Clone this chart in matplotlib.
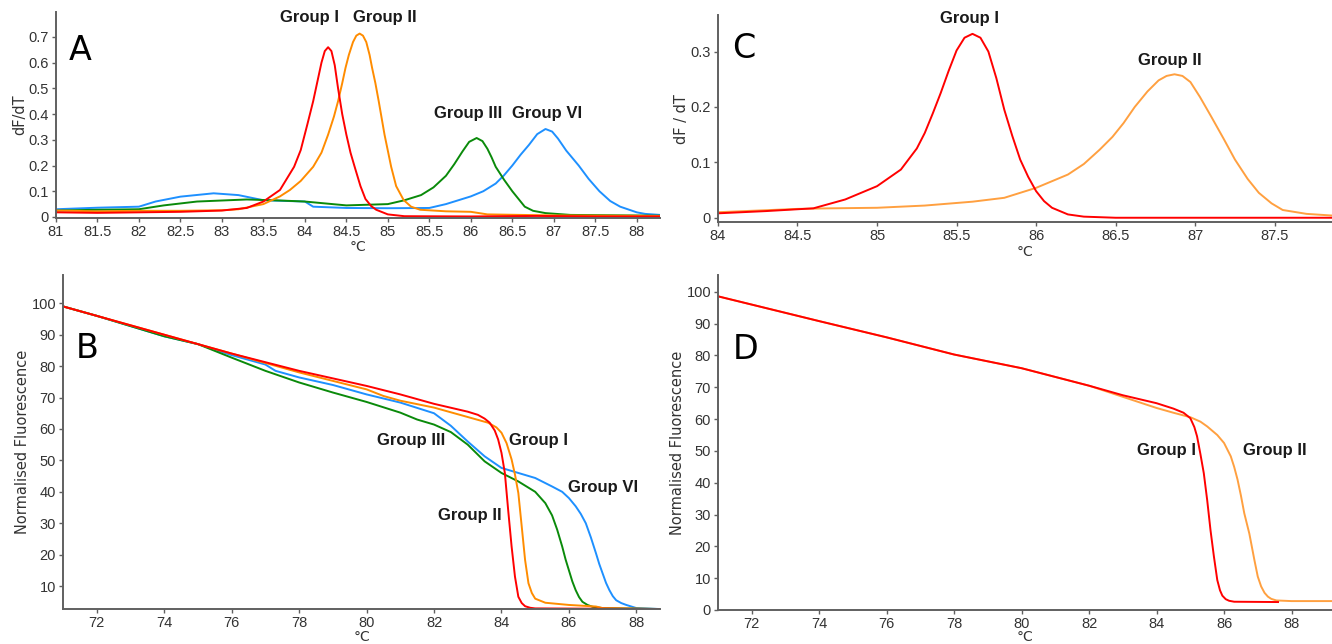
import matplotlib
matplotlib.use("Agg")
import matplotlib.pyplot as plt

# ---- Panel A: derivative melt curves (dF/dT) ----
a_g1_x = [81.0, 81.5, 82.0, 82.5, 83.0, 83.3, 83.5, 83.7, 83.87, 83.95, 84.03, 84.1, 84.16, 84.2, 84.24, 84.28, 84.32, 84.36, 84.4, 84.45, 84.5, 84.55, 84.6, 84.67, 84.73, 84.8, 84.86, 85.0, 85.2, 86.0, 86.8, 87.5, 88.28]
a_g1_y = [0.018, 0.016, 0.018, 0.020, 0.025, 0.035, 0.060, 0.105, 0.195, 0.260, 0.360, 0.450, 0.540, 0.600, 0.645, 0.660, 0.645, 0.590, 0.500, 0.400, 0.320, 0.250, 0.195, 0.120, 0.070, 0.042, 0.028, 0.010, 0.003, 0.002, 0.004, 0.002, 0.002]

a_g2_x = [81.0, 81.5, 82.0, 82.5, 83.0, 83.2, 83.5, 83.7, 83.82, 83.95, 84.1, 84.2, 84.28, 84.35, 84.4, 84.45, 84.49, 84.53, 84.58, 84.62, 84.66, 84.7, 84.74, 84.78, 84.81, 84.85, 84.89, 84.96, 85.04, 85.1, 85.19, 85.28, 85.39, 85.7, 86.0, 86.2, 87.0, 88.28]
a_g2_y = [0.025, 0.022, 0.024, 0.024, 0.026, 0.030, 0.050, 0.080, 0.105, 0.140, 0.195, 0.250, 0.320, 0.390, 0.450, 0.520, 0.580, 0.630, 0.680, 0.705, 0.713, 0.705, 0.680, 0.630, 0.580, 0.520, 0.450, 0.320, 0.195, 0.120, 0.066, 0.040, 0.028, 0.022, 0.020, 0.010, 0.006, 0.004]

a_g3_x = [81.0, 81.5, 82.0, 82.3, 82.7, 83.3, 83.7, 84.0, 84.5, 85.0, 85.2, 85.4, 85.55, 85.7, 85.8, 85.9, 85.98, 86.07, 86.14, 86.2, 86.25, 86.3, 86.4, 86.5, 86.58, 86.65, 86.75, 86.9, 87.2, 88.28]
a_g3_y = [0.025, 0.028, 0.030, 0.045, 0.060, 0.068, 0.064, 0.060, 0.045, 0.050, 0.065, 0.085, 0.115, 0.160, 0.205, 0.255, 0.292, 0.307, 0.295, 0.265, 0.232, 0.195, 0.145, 0.100, 0.068, 0.040, 0.024, 0.015, 0.008, 0.005]

a_g6_x = [81.0, 81.5, 82.0, 82.2, 82.5, 82.9, 83.2, 83.5, 84.0, 84.1, 84.5, 85.0, 85.5, 85.7, 86.0, 86.15, 86.3, 86.4, 86.5, 86.6, 86.7, 86.8, 86.9, 86.98, 87.05, 87.15, 87.3, 87.42, 87.55, 87.68, 87.8, 88.0, 88.1, 88.28]
a_g6_y = [0.030, 0.036, 0.040, 0.060, 0.079, 0.092, 0.085, 0.065, 0.060, 0.040, 0.035, 0.034, 0.035, 0.050, 0.080, 0.100, 0.130, 0.162, 0.200, 0.242, 0.280, 0.322, 0.342, 0.332, 0.305, 0.258, 0.200, 0.148, 0.100, 0.062, 0.040, 0.018, 0.012, 0.008]

# ---- Panel C: derivative melt curves ----
c_g1_x = [84.0, 84.3, 84.6, 84.8, 85.0, 85.15, 85.25, 85.3, 85.35, 85.4, 85.45, 85.5, 85.55, 85.6, 85.65, 85.7, 85.75, 85.8, 85.85, 85.9, 85.95, 86.0, 86.05, 86.1, 86.2, 86.3, 86.5, 87.86]
c_g1_y = [0.008, 0.012, 0.017, 0.033, 0.057, 0.087, 0.125, 0.153, 0.188, 0.225, 0.265, 0.302, 0.325, 0.332, 0.325, 0.300, 0.252, 0.195, 0.148, 0.105, 0.074, 0.048, 0.030, 0.018, 0.006, 0.002, 0.0, 0.0]

c_g2_x = [84.0, 84.5, 84.7, 85.0, 85.3, 85.6, 85.8, 86.0, 86.2, 86.3, 86.4, 86.48, 86.55, 86.62, 86.7, 86.77, 86.82, 86.87, 86.92, 86.97, 87.03, 87.1, 87.18, 87.25, 87.33, 87.4, 87.48, 87.55, 87.7, 87.86]
c_g2_y = [0.010, 0.016, 0.017, 0.018, 0.022, 0.029, 0.036, 0.054, 0.078, 0.097, 0.123, 0.146, 0.171, 0.200, 0.228, 0.248, 0.256, 0.259, 0.256, 0.245, 0.218, 0.183, 0.142, 0.105, 0.070, 0.045, 0.026, 0.014, 0.007, 0.004]

# ---- Panel B: normalised melt curves ----
b_g1_x = [71.0, 72.0, 74.0, 76.0, 78.0, 80.0, 81.0, 82.0, 83.0, 83.3, 83.5, 83.65, 83.8, 83.9, 84.0, 84.1, 84.2, 84.3, 84.4, 84.5, 84.6, 84.7, 84.85, 85.0, 88.7]
b_g1_y = [99.0, 96.0, 90.0, 84.0, 78.5, 73.7, 71.0, 68.0, 65.5, 64.5, 63.3, 62.0, 59.5, 56.7, 52.4, 46.0, 34.0, 22.6, 13.0, 6.6, 4.6, 3.6, 3.1, 2.9, 2.7]

b_g2_x = [71.0, 72.0, 74.0, 76.0, 78.0, 80.0, 80.5, 81.0, 82.0, 83.0, 83.6, 83.85, 84.0, 84.15, 84.3, 84.4, 84.5, 84.6, 84.7, 84.8, 84.9, 85.0, 85.3, 86.0, 86.8, 87.0, 88.7]
b_g2_y = [99.0, 96.0, 90.0, 84.0, 78.0, 72.6, 70.5, 69.0, 66.8, 63.8, 62.0, 60.5, 58.8, 55.5, 50.3, 45.5, 39.6, 29.0, 18.3, 10.9, 7.8, 6.0, 4.7, 4.0, 3.5, 3.0, 2.7]

b_g3_x = [71.0, 72.0, 74.0, 75.0, 76.0, 77.0, 78.0, 79.0, 80.0, 81.0, 81.5, 82.0, 82.5, 83.0, 83.5, 84.0, 84.5, 85.0, 85.3, 85.5, 85.65, 85.8, 85.9, 86.0, 86.1, 86.2, 86.3, 86.4, 86.55, 86.7, 87.0, 88.7]
b_g3_y = [99.0, 96.0, 89.5, 87.0, 82.7, 78.5, 74.8, 71.6, 68.6, 65.2, 63.0, 61.4, 59.0, 55.0, 49.7, 46.0, 43.3, 40.0, 36.4, 32.5, 28.0, 22.6, 18.5, 15.0, 11.5, 8.7, 6.5, 5.0, 4.0, 3.4, 3.0, 2.7]

b_g6_x = [71.0, 72.0, 74.0, 75.0, 76.0, 77.0, 77.3, 78.0, 79.0, 80.0, 81.0, 82.0, 82.5, 83.0, 83.5, 84.0, 84.5, 85.0, 85.5, 85.8, 86.0, 86.2, 86.35, 86.5, 86.65, 86.8, 86.9, 87.0, 87.1, 87.2, 87.3, 87.4, 87.55, 87.7, 88.0, 88.7]
b_g6_y = [99.0, 96.0, 89.5, 87.0, 83.5, 80.5, 78.5, 76.4, 74.0, 71.0, 68.4, 65.0, 61.0, 56.0, 51.3, 47.6, 46.0, 44.4, 41.7, 40.0, 38.0, 35.4, 33.0, 30.0, 25.5, 20.5, 17.0, 14.0, 11.0, 8.7, 6.8, 5.5, 4.6, 4.0, 3.0, 2.7]

# ---- Panel D: normalised melt curves ----
d_g1_x = [71.0, 72.0, 74.0, 76.0, 78.0, 80.0, 82.0, 83.0, 84.0, 84.5, 84.8, 85.0, 85.12, 85.2, 85.3, 85.4, 85.5, 85.6, 85.7, 85.8, 85.88, 85.95, 86.05, 86.15, 86.3, 87.6]
d_g1_y = [98.6, 96.0, 90.8, 85.7, 80.3, 76.0, 70.5, 67.5, 65.0, 63.3, 62.0, 60.3, 57.5, 54.6, 49.0, 43.0, 34.6, 25.0, 16.8, 9.4, 6.2, 4.5, 3.4, 2.9, 2.6, 2.5]

d_g2_x = [71.0, 72.0, 74.0, 76.0, 78.0, 80.0, 82.0, 83.0, 84.0, 84.5, 85.0, 85.3, 85.5, 85.8, 86.0, 86.2, 86.3, 86.4, 86.5, 86.6, 86.75, 86.9, 87.0, 87.1, 87.2, 87.3, 87.4, 87.55, 88.0, 89.2]
d_g2_y = [98.6, 96.0, 90.8, 85.7, 80.3, 76.0, 70.5, 67.0, 63.5, 62.0, 60.6, 59.2, 57.7, 55.0, 52.5, 48.3, 45.0, 41.0, 36.0, 30.4, 24.0, 15.7, 10.5, 7.4, 5.4, 4.2, 3.5, 3.0, 2.8, 2.8]

RED = "#ff0000"
ORANGE = "#ff8c00"
ORANGE_LIGHT = "#ffa040"
GREEN = "#0a8a0a"
BLUE = "#1e90ff"
AXC = "#606060"
TXT = "#333333"

fig = plt.figure(figsize=(13.32, 6.44), dpi=100)
axA = fig.add_axes([0.042, 0.6615, 0.4535, 0.3199])
axC = fig.add_axes([0.539, 0.655, 0.461, 0.3217])
axB = fig.add_axes([0.0473, 0.0543, 0.4482, 0.5187])
axD = fig.add_axes([0.539, 0.0528, 0.461, 0.5202])


def style(ax):
    for s in ("top", "right"):
        ax.spines[s].set_visible(False)
    for s in ("left", "bottom"):
        ax.spines[s].set_color(AXC)
        ax.spines[s].set_linewidth(1.4)
    ax.tick_params(colors=AXC, labelcolor=TXT, labelsize=10.5, length=3, width=1, pad=2)
    for lab in ax.get_xticklabels() + ax.get_yticklabels():
        lab.set_family("Liberation Sans")


def group_label(ax, x, y, s):
    ax.text(x, y, s, ha="center", va="center", fontsize=12,
            fontweight="bold", family="Liberation Sans", color="#1a1a1a")


def axis_labels(ax, ylab, xpad=1):
    ax.set_xlabel("°C", fontsize=10, color=TXT, labelpad=xpad, family="DejaVu Sans")
    ax.set_ylabel(ylab, fontsize=10.5, color=TXT, labelpad=1, family="DejaVu Sans")


lw = 1.4

# A
axA.plot(a_g6_x, a_g6_y, color=BLUE, lw=lw)
axA.plot(a_g3_x, a_g3_y, color=GREEN, lw=lw)
axA.plot(a_g2_x, a_g2_y, color=ORANGE, lw=lw)
axA.plot(a_g1_x, a_g1_y, color=RED, lw=lw)
axA.set_xlim(81, 88.28)
axA.set_ylim(-0.004, 0.797)
axA.set_xticks([81 + 0.5 * i for i in range(15)])
axA.set_xticklabels([f"{81 + 0.5 * i:g}" for i in range(15)])
axA.set_yticks([0.1 * i for i in range(8)])
axA.set_yticklabels(["0"] + [f"{0.1 * i:.1f}" for i in range(1, 8)])
axis_labels(axA, "dF/dT")
group_label(axA, 84.05, 0.774, "Group I")
group_label(axA, 84.96, 0.774, "Group II")
group_label(axA, 85.97, 0.402, "Group III")
group_label(axA, 86.92, 0.402, "Group VI")
axA.text(81.29, 0.649, "A", fontsize=24, ha="center", va="center", family="DejaVu Sans")
style(axA)

# C
axC.plot(c_g2_x, c_g2_y, color=ORANGE_LIGHT, lw=lw)
axC.plot(c_g1_x, c_g1_y, color=RED, lw=lw)
axC.set_xlim(84, 87.86)
axC.set_ylim(-0.008, 0.366)
axC.set_xticks([84 + 0.5 * i for i in range(8)])
axC.set_xticklabels([f"{84 + 0.5 * i:g}" for i in range(8)])
axC.set_yticks([0, 0.1, 0.2, 0.3])
axC.set_yticklabels(["0", "0.1", "0.2", "0.3"])
axis_labels(axC, "dF / dT")
group_label(axC, 85.58, 0.359, "Group I")
group_label(axC, 86.84, 0.284, "Group II")
axC.text(84.16, 0.305, "C", fontsize=24, ha="center", va="center", family="DejaVu Sans")
style(axC)

# B
axB.plot(b_g6_x, b_g6_y, color=BLUE, lw=lw)
axB.plot(b_g3_x, b_g3_y, color=GREEN, lw=lw)
axB.plot(b_g2_x, b_g2_y, color=ORANGE, lw=lw)
axB.plot(b_g1_x, b_g1_y, color=RED, lw=lw)
axB.set_xlim(71, 88.7)
axB.set_ylim(2.7, 109)
axB.set_xticks(list(range(72, 89, 2)))
axB.set_yticks(list(range(10, 101, 10)))
axis_labels(axB, "Normalised Fluorescence", xpad=0)
group_label(axB, 81.32, 56.3, "Group III")
group_label(axB, 85.09, 56.3, "Group I")
group_label(axB, 87.0, 41.4, "Group VI")
group_label(axB, 83.05, 32.4, "Group II")
axB.text(71.72, 85.6, "B", fontsize=24, ha="center", va="center", family="DejaVu Sans")
style(axB)

# D
axD.plot(d_g2_x, d_g2_y, color=ORANGE_LIGHT, lw=lw)
axD.plot(d_g1_x, d_g1_y, color=RED, lw=lw)
axD.set_xlim(71, 89.2)
axD.set_ylim(0, 105.3)
axD.set_xticks(list(range(72, 89, 2)))
axD.set_yticks(list(range(0, 101, 10)))
axis_labels(axD, "Normalised Fluorescence", xpad=-1)
group_label(axD, 84.28, 50.2, "Group I")
group_label(axD, 87.5, 50.2, "Group II")
axD.text(71.81, 81.8, "D", fontsize=24, ha="center", va="center", family="DejaVu Sans")
style(axD)

fig.savefig("out.png", dpi=100)
